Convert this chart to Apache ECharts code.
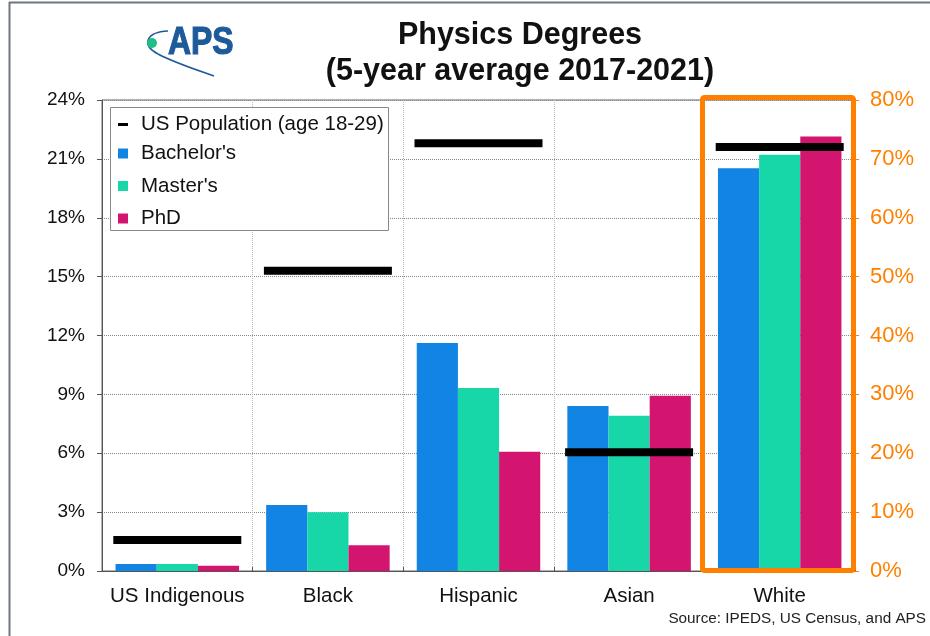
<!DOCTYPE html>
<html>
<head>
<meta charset="utf-8">
<script src="https://cdn.jsdelivr.net/npm/echarts@6/dist/echarts.min.js"></script>
<style>
  html, body { margin: 0; padding: 0; background: #fff; }
  #chart { width: 930px; height: 636px; }
</style>
</head>
<body>
<div id="chart"></div>
<script>
// ---- Data (percent) ----
const categories = ['US Indigenous', 'Black', 'Hispanic', 'Asian', 'White'];
// The last category (White) is read on the right axis (0-80%), the rest on the left axis (0-24%).
const rightAxisCategory = 'White';
const bachelors  = [0.36, 3.36, 11.62, 8.41, 68.4];
const masters    = [0.36, 2.99, 9.33, 7.91, 70.7];
const phd        = [0.27, 1.31, 6.08, 8.93, 73.8];
const population = [1.58, 15.3, 21.8, 6.05, 72.0];
const leftTicks  = { min: 0, max: 24, interval: 3 };
const rightTicks = { min: 0, max: 80, interval: 10 };

const FONT = '"Liberation Sans", Arial, Helvetica, sans-serif';
const COLORS = { bach: '#1284e4', mast: '#17d7a8', phd: '#d31570', pop: '#000000', orange: '#ff8000' };

const isRight = (i) => categories[i] === rightAxisCategory;
const leftPart  = (arr) => arr.map((v, i) => isRight(i) ? '-' : v);
const rightPart = (arr) => arr.map((v, i) => isRight(i) ? v : '-');

function barSeries(name, arr, color, right) {
  return {
    name: name,
    type: 'bar',
    xAxisIndex: right ? 1 : 0,
    yAxisIndex: right ? 1 : 0,
    data: right ? rightPart(arr) : leftPart(arr),
    barGap: '0%',
    barCategoryGap: '18%',
    itemStyle: { color: color },
    z: 2
  };
}
function popSeries(right) {
  return {
    name: 'US Population (age 18-29)',
    type: 'scatter',
    xAxisIndex: right ? 1 : 0,
    yAxisIndex: right ? 1 : 0,
    data: right ? rightPart(population) : leftPart(population),
    symbol: 'rect',
    symbolSize: [128, 8],
    itemStyle: { color: COLORS.pop, opacity: 1 },
    z: 5,
    silent: true
  };
}

const chart = echarts.init(document.getElementById('chart'), null, { renderer: 'canvas' });

const legendText = { fontFamily: FONT, fontSize: 20.5, color: '#111', padding: [0, 0, 0, 8] };

const option = {
  backgroundColor: '#ffffff',
  animation: false,
  textStyle: { fontFamily: FONT },
  title: {
    text: 'Physics Degrees\n(5-year average 2017-2021)',
    left: 515,
    top: 13,
    textAlign: 'center',
    textStyle: { fontFamily: FONT, fontSize: 30.5, fontWeight: 'bold', color: '#111', lineHeight: 36 }
  },
  grid: {
    left: 102, right: 75, top: 100, bottom: 65,
    show: true, borderColor: '#666', borderWidth: 1, backgroundColor: 'transparent'
  },
  legend: [
    {
      orient: 'vertical',
      left: 113, top: 109,
      itemWidth: 10, itemHeight: 3,
      data: [{ name: 'US Population (age 18-29)', icon: 'rect' }],
      textStyle: legendText,
      selectedMode: false
    },
    {
      orient: 'vertical',
      left: 113, top: 138,
      itemWidth: 10, itemHeight: 10,
      itemGap: 11.5,
      data: [
        { name: "Bachelor's", icon: 'rect' },
        { name: "Master's", icon: 'rect' },
        { name: 'PhD', icon: 'rect' }
      ],
      textStyle: legendText,
      selectedMode: false
    }
  ],
  xAxis: [
    {
      type: 'category',
      data: categories,
      axisLine: { lineStyle: { color: '#555', width: 1 } },
      axisTick: { show: true, inside: true, length: 4, interval: 0, lineStyle: { color: '#555' } },
      axisLabel: { fontFamily: FONT, fontSize: 20.5, color: '#111', margin: 15, interval: 0 },
      splitLine: { show: true, interval: 0, lineStyle: { type: 'dotted', color: '#bbb', width: 1 } }
    },
    {
      type: 'category',
      data: categories,
      show: false
    }
  ],
  yAxis: [
    {
      type: 'value',
      position: 'left',
      min: leftTicks.min, max: leftTicks.max, interval: leftTicks.interval,
      axisLine: { show: true, lineStyle: { color: '#555', width: 1 } },
      axisTick: { show: true, length: 5, lineStyle: { color: '#555' } },
      axisLabel: { fontFamily: FONT, fontSize: 19, color: '#111', margin: 17, formatter: '{value}%' },
      splitLine: { show: true, lineStyle: { type: 'dotted', color: '#888', width: 1 } }
    },
    {
      type: 'value',
      position: 'right',
      min: rightTicks.min, max: rightTicks.max, interval: rightTicks.interval,
      axisLine: { show: true, lineStyle: { color: COLORS.orange, width: 1 } },
      axisTick: { show: true, length: 4, lineStyle: { color: COLORS.orange } },
      axisLabel: { fontFamily: FONT, fontSize: 22, color: COLORS.orange, margin: 15, formatter: '{value}%' },
      splitLine: { show: false }
    }
  ],
  series: [
    popSeries(false),
    barSeries("Bachelor's", bachelors, COLORS.bach, false),
    barSeries("Master's", masters, COLORS.mast, false),
    barSeries('PhD', phd, COLORS.phd, false),
    barSeries("Bachelor's", bachelors, COLORS.bach, true),
    barSeries("Master's", masters, COLORS.mast, true),
    barSeries('PhD', phd, COLORS.phd, true),
    popSeries(true)
  ],
  graphic: [
    // outer frame (top and left edges)
    { type: 'line', z: 100, shape: { x1: 9, y1: 2.5, x2: 930, y2: 2.5 }, style: { stroke: '#6e7781', lineWidth: 2 } },
    { type: 'line', z: 100, shape: { x1: 9.5, y1: 2, x2: 9.5, y2: 636 }, style: { stroke: '#6e7781', lineWidth: 2 } },
    // legend box
    { type: 'rect', z: 1, shape: { x: 110.5, y: 107.5, width: 278, height: 123 }, style: { fill: '#fff', stroke: '#888', lineWidth: 1 } },
    // orange highlight box
    { type: 'rect', z: 50, shape: { x: 702.5, y: 97.5, width: 151, height: 473, r: 2 }, style: { fill: 'none', stroke: COLORS.orange, lineWidth: 5 } },
    // APS logo
    { type: 'bezierCurve', z: 10, shape: { x1: 168, y1: 31, cpx1: 146, cpy1: 32, cpx2: 141, cpy2: 45, x2: 158, y2: 54 }, style: { fill: 'none', stroke: '#1d5a9a', lineWidth: 1.6 } },
    { type: 'bezierCurve', z: 10, shape: { x1: 158, y1: 54, cpx1: 175, cpy1: 63, cpx2: 200, cpy2: 71, x2: 214, y2: 76 }, style: { fill: 'none', stroke: '#1d5a9a', lineWidth: 1.6 } },
    { type: 'text', z: 11, x: 168, y: 25, scaleX: 0.84,
      style: { text: 'APS', font: 'bold 38px ' + FONT, fill: '#1d5a9a', stroke: '#1d5a9a', lineWidth: 1.2, verticalAlign: 'top' } },
    { type: 'circle', z: 12, shape: { cx: 152, cy: 43, r: 5 }, style: { fill: '#1fbf86' } },
    // source
    { type: 'text', z: 10, right: 4, top: 611, style: { text: 'Source: IPEDS, US Census, and APS', font: '15.3px ' + FONT, fill: '#222' } }
  ]
};
chart.setOption(option);
</script>
</body>
</html>
